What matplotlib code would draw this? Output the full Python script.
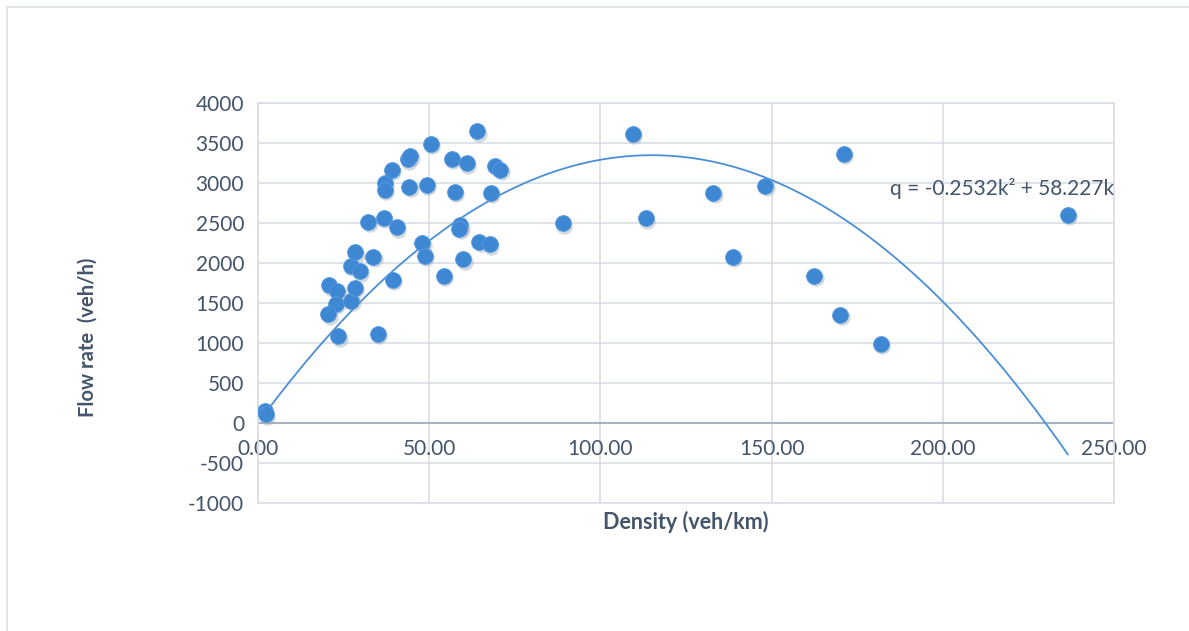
import numpy as np
import matplotlib
matplotlib.use("Agg")
import matplotlib.pyplot as plt
import matplotlib.transforms as mtransforms
from matplotlib.patches import Rectangle

# density (veh/km) and flow (veh/h)
density = [2.0, 2.3, 20.8, 23.2, 22.7, 20.5, 23.4, 27.3, 28.3, 27.1, 28.4, 29.7,
           32.2, 33.7, 35.0, 36.7, 37.0, 37.0, 39.0, 39.3, 40.5, 43.7, 44.4,
           44.2, 47.9, 48.7, 49.3, 50.5, 54.2, 56.6, 57.5, 59.1, 58.8, 60.0, 60.9,
           64.1, 64.6, 67.7, 68.0, 69.3, 70.8, 89.0, 109.4, 113.2, 133.0, 148.1,
           171.1, 138.6, 162.4, 170.0, 181.9, 236.5]
flow = [150, 110, 1722, 1647, 1492, 1359, 1083, 1526, 1693, 1965, 2132, 1898,
        2516, 2077, 1116, 2567, 2997, 2913, 3164, 1793, 2445, 3298, 3340,
        2955, 2245, 2090, 2976, 3490, 1843, 3302, 2893, 2475, 2430, 2044, 3248,
        3645, 2266, 2236, 2880, 3214, 3164, 2495, 3617, 2559, 2881, 2965,
        3366, 2078, 1840, 1355, 991, 2601]

# trendline coefficients shown on the chart
a2 = -0.2532
a1 = 58.227
eq_text = "q = -0.2532k\u00b2 + 58.227k"

text_col = "#44546A"
grid_col = "#D9DEE6"
dot_col = "#3E87D3"

plt.rcParams['font.family'] = ['Lato', 'DejaVu Sans']
plt.rcParams['axes.unicode_minus'] = False

fig = plt.figure(figsize=(11.89, 6.31), dpi=100)
ax = fig.add_axes([258 / 1189, 1 - 503 / 631, (1114 - 258) / 1189, (503 - 103) / 631])

# chart border
fig.patches.append(Rectangle((7 / 1189, -0.1), 1.2, 1 - 7 / 631 + 0.1,
                             transform=fig.transFigure, fill=False,
                             edgecolor="#D9DEE6", linewidth=1.2))

ax.set_xlim(0, 250)
ax.set_ylim(-1000, 4000)
ax.set_xticks(np.arange(0, 251, 50))
ax.set_yticks(np.arange(-1000, 4001, 500))
ax.set_xticklabels(["%.2f" % v for v in np.arange(0, 251, 50)])
ax.grid(True, color=grid_col, linewidth=1.2)
ax.set_axisbelow(True)
ax.axhline(0, color="#A9B2C0", linewidth=1.5, zorder=1)

for s in ["top", "right", "left", "bottom"]:
    ax.spines[s].set_color(grid_col)
    ax.spines[s].set_linewidth(1.2)

ax.tick_params(axis="both", length=0, labelsize=15, colors=text_col)
ax.tick_params(axis="x", pad=-46)
ax.tick_params(axis="y", pad=10)

# trendline
k = np.linspace(min(density), max(density), 300)
ax.plot(k, a2 * k ** 2 + a1 * k, color="#4A8FD6", linewidth=1.3, zorder=2)

# markers with a soft shadow
shadow = mtransforms.offset_copy(ax.transData, fig=fig, x=1.5, y=-2.5, units="dots")
ax.scatter(density, flow, s=140, color="#9AA3AE", alpha=0.4, linewidths=0,
           transform=shadow, zorder=3)
ax.scatter(density, flow, s=130, color=dot_col, edgecolors="#5A9BE0",
           linewidths=0.6, zorder=4)

ax.text(184.5, 2937, eq_text, fontsize=15, color=text_col, va="center", zorder=5)

fig.text(686 / 1189, 1 - 522 / 631, "Density (veh/km)", ha="center", va="center",
         fontsize=15.5, fontweight="bold", color=text_col)
fig.text(88 / 1189, 1 - 337 / 631, "Flow rate  (veh/h)", ha="center", va="center",
         rotation=90, fontsize=14.5, fontweight="bold", color=text_col)

fig.savefig("out.png", dpi=100)
